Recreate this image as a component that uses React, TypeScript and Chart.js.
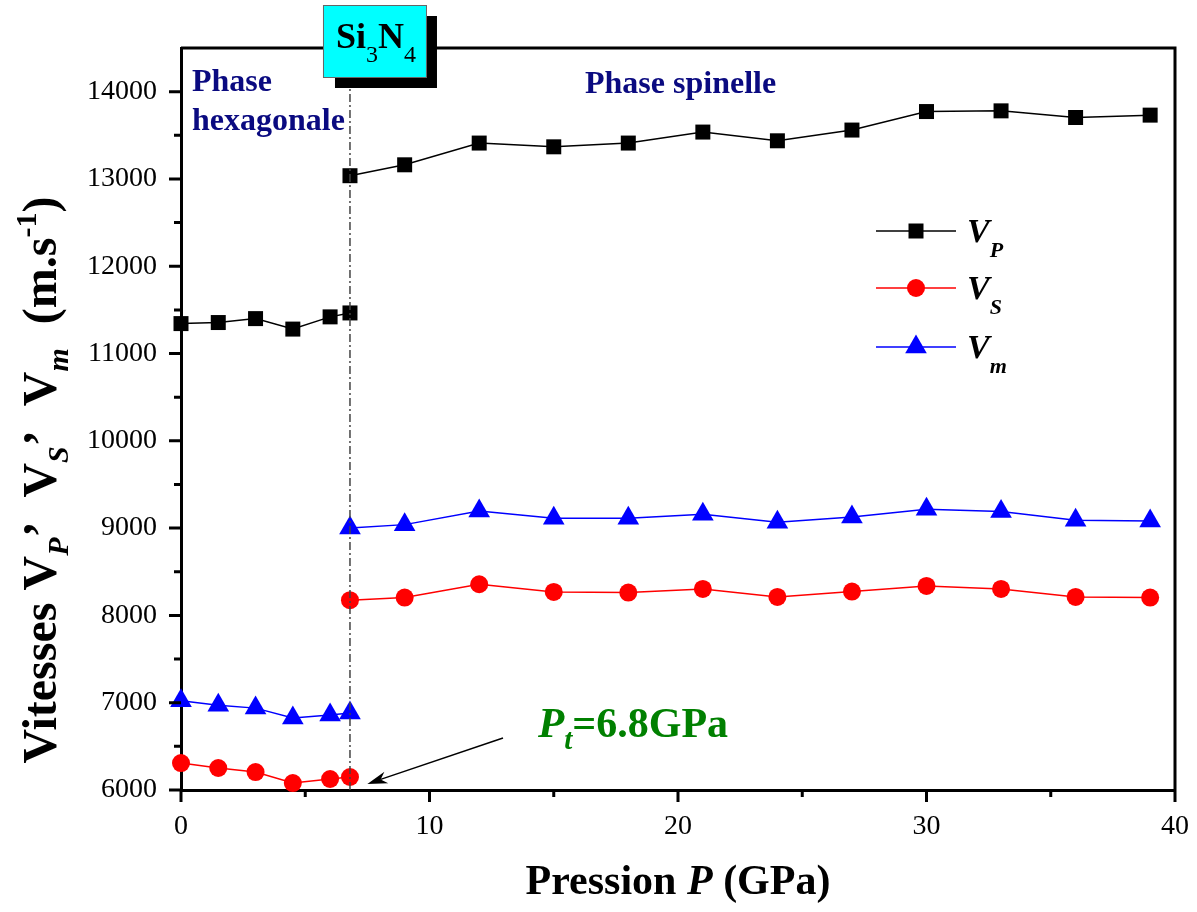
import React, { useEffect, useRef } from 'react';
import { Chart, registerables } from 'chart.js';
Chart.register(...registerables);

// ---- data ----
const pressureHex = [0, 1.5, 3, 4.5, 6, 6.8];
const pressureSpinel = [6.8, 9, 12, 15, 18, 21, 24, 27, 30, 33, 36, 39];
const vpHex = [11343, 11355, 11400, 11280, 11420, 11465];
const vpSpinel = [13037, 13162, 13411, 13368, 13411, 13537, 13437, 13560, 13772, 13780, 13704, 13731];
const vsHex = [6309, 6252, 6206, 6080, 6126, 6149];
const vsSpinel = [8174, 8205, 8357, 8269, 8262, 8303, 8212, 8273, 8338, 8303, 8212, 8205];
const vmHex = [7022, 6972, 6938, 6824, 6858, 6881];
const vmSpinel = [9001, 9040, 9196, 9112, 9112, 9158, 9066, 9127, 9215, 9189, 9089, 9081];
const xMajorTicks = [0, 10, 20, 30, 40];
const xMinorTicks = [5, 15, 25, 35];
const yMajorTicks = [6000, 7000, 8000, 9000, 10000, 11000, 12000, 13000, 14000];
const yMinorTicks = [6500, 7500, 8500, 9500, 10500, 11500, 12500, 13500];
const transitionPressure = 6.8;
const arrowTargetPressure = 7.5;
const arrowTargetSpeed = 6070;
const seriesNames = ['P', 'S', 'm'];
const seriesColors = ['#000000', '#ff0000', '#0000ff'];

type Run = { t: string; size: number; bold?: boolean; italic?: boolean; dy?: number };
const FAM = '"Liberation Serif", "Times New Roman", serif';
const fontOf = (r: Run) => `${r.italic ? 'italic ' : ''}${r.bold ? 'bold ' : ''}${r.size}px ${FAM}`;
function drawRuns(ctx: CanvasRenderingContext2D, runs: Run[], x: number, y: number, align: 'left' | 'center') {
  let total = 0;
  for (const r of runs) { ctx.font = fontOf(r); total += ctx.measureText(r.t).width; }
  let cx = align === 'center' ? x - total / 2 : x;
  ctx.textAlign = 'left';
  ctx.textBaseline = 'alphabetic';
  for (const r of runs) {
    ctx.font = fontOf(r);
    ctx.fillText(r.t, cx, y + (r.dy || 0));
    cx += ctx.measureText(r.t).width;
  }
}

function join(hex: number[], sp: number[]) {
  return [
    ...hex.map((y, i) => ({ x: pressureHex[i], y })),
    { x: transitionPressure, y: null as any },
    ...sp.map((y, i) => ({ x: pressureSpinel[i], y })),
  ];
}

function drawMarker(ctx: CanvasRenderingContext2D, kind: number, x: number, y: number, color: string) {
  ctx.fillStyle = color;
  ctx.beginPath();
  if (kind === 0) {
    ctx.rect(x - 7.5, y - 7.5, 15, 15);
  } else if (kind === 1) {
    ctx.arc(x, y, 9, 0, Math.PI * 2);
  } else {
    const r = 12.5;
    ctx.moveTo(x, y - r);
    ctx.lineTo(x + r * 0.866, y + r * 0.5);
    ctx.lineTo(x - r * 0.866, y + r * 0.5);
    ctx.closePath();
  }
  ctx.fill();
}

const decorPlugin = {
  id: 'decor',
  afterDatasetsDraw(chart: any) {
    const ctx = chart.ctx as CanvasRenderingContext2D;
    const xs = chart.scales.x;
    const ca = chart.chartArea;
    const px = xs.getPixelForValue(transitionPressure);
    ctx.save();
    ctx.strokeStyle = '#444444';
    ctx.lineWidth = 1.5;
    ctx.setLineDash([8, 3, 2, 3]);
    ctx.beginPath();
    ctx.moveTo(px, ca.bottom);
    ctx.lineTo(px, ca.top);
    ctx.stroke();
    ctx.restore();
  },
  afterDraw(chart: any) {
    const ctx = chart.ctx as CanvasRenderingContext2D;
    const xs = chart.scales.x, ys = chart.scales.y;
    const ca = chart.chartArea;
    ctx.save();
    // frame
    ctx.strokeStyle = '#000';
    ctx.lineWidth = 3;
    ctx.beginPath();
    ctx.moveTo(ca.left, ca.top);
    ctx.lineTo(ca.right, ca.top);
    ctx.lineTo(ca.right, ca.bottom);
    ctx.stroke();
    // ticks
    ctx.lineWidth = 3;
    ctx.beginPath();
    for (const v of yMajorTicks) { const p = ys.getPixelForValue(v); ctx.moveTo(ca.left - 12, p); ctx.lineTo(ca.left, p); }
    for (const v of yMinorTicks) { const p = ys.getPixelForValue(v); ctx.moveTo(ca.left - 7, p); ctx.lineTo(ca.left, p); }
    for (const v of xMajorTicks) { const p = xs.getPixelForValue(v); ctx.moveTo(p, ca.bottom); ctx.lineTo(p, ca.bottom + 12); }
    for (const v of xMinorTicks) { const p = xs.getPixelForValue(v); ctx.moveTo(p, ca.bottom); ctx.lineTo(p, ca.bottom + 7); }
    ctx.stroke();

    // Si3N4 box
    const bx = xs.getPixelForValue(transitionPressure) - 27;
    ctx.fillStyle = '#000';
    ctx.fillRect(bx + 12, 16, 102, 72);
    ctx.fillStyle = '#00ffff';
    ctx.fillRect(bx, 5, 103, 72);
    ctx.strokeStyle = '#666';
    ctx.lineWidth = 1;
    ctx.strokeRect(bx + 0.5, 5.5, 103, 72);
    ctx.fillStyle = '#000';
    drawRuns(ctx, [
      { t: 'Si', size: 36, bold: true },
      { t: '3', size: 24, dy: 14 },
      { t: 'N', size: 36, bold: true },
      { t: '4', size: 24, dy: 14 },
    ], bx + 13, 48, 'left');

    // phase labels
    ctx.fillStyle = '#0a0a80';
    drawRuns(ctx, [{ t: 'Phase', size: 32, bold: true }], ca.left + 11, 91, 'left');
    drawRuns(ctx, [{ t: 'hexagonale', size: 32, bold: true }], ca.left + 11, 130, 'left');
    drawRuns(ctx, [{ t: 'Phase spinelle', size: 32, bold: true }], 585, 93, 'left');

    // Pt label
    ctx.fillStyle = '#008000';
    drawRuns(ctx, [
      { t: 'P', size: 43, bold: true, italic: true },
      { t: 't', size: 29, bold: true, italic: true, dy: 12 },
      { t: '=6.8GPa', size: 42, bold: true },
    ], 538, 737, 'left');

    // arrow
    const ax = xs.getPixelForValue(arrowTargetPressure), ay = ys.getPixelForValue(arrowTargetSpeed);
    const sx = 503, sy = 738;
    const ang = Math.atan2(ay - sy, ax - sx);
    ctx.strokeStyle = '#000';
    ctx.lineWidth = 1.5;
    ctx.beginPath();
    ctx.moveTo(sx, sy);
    ctx.lineTo(ax - 14 * Math.cos(ang), ay - 14 * Math.sin(ang));
    ctx.stroke();
    ctx.fillStyle = '#000';
    ctx.beginPath();
    ctx.moveTo(ax, ay);
    ctx.lineTo(ax - 20 * Math.cos(ang) + 6 * Math.sin(ang), ay - 20 * Math.sin(ang) - 6 * Math.cos(ang));
    ctx.lineTo(ax - 14 * Math.cos(ang), ay - 14 * Math.sin(ang));
    ctx.lineTo(ax - 20 * Math.cos(ang) - 6 * Math.sin(ang), ay - 20 * Math.sin(ang) + 6 * Math.cos(ang));
    ctx.closePath();
    ctx.fill();

    // legend
    const ly = [231, 288, 347];
    seriesNames.forEach((name, i) => {
      ctx.strokeStyle = seriesColors[i];
      ctx.lineWidth = 1.5;
      ctx.beginPath();
      ctx.moveTo(876, ly[i]);
      ctx.lineTo(956, ly[i]);
      ctx.stroke();
      drawMarker(ctx, i, 916, ly[i], seriesColors[i]);
      ctx.fillStyle = '#000';
      drawRuns(ctx, [
        { t: 'V', size: 34, bold: true, italic: true },
        { t: name, size: 22, bold: true, italic: true, dy: 15 },
      ], 967, ly[i] + 11, 'left');
    });

    // axis titles
    ctx.fillStyle = '#000';
    drawRuns(ctx, [
      { t: 'Pression ', size: 42, bold: true },
      { t: 'P', size: 42, bold: true, italic: true },
      { t: ' (GPa)', size: 42, bold: true },
    ], (ca.left + ca.right) / 2, 894, 'center');

    ctx.save();
    ctx.translate(56, 480);
    ctx.rotate(-Math.PI / 2);
    drawRuns(ctx, [
      { t: 'Vitesses V', size: 48, bold: true },
      { t: 'P', size: 30, bold: true, italic: true, dy: 12 },
      { t: '\u2019  V', size: 48, bold: true },
      { t: 'S', size: 30, bold: true, italic: true, dy: 12 },
      { t: '\u2019  V', size: 48, bold: true },
      { t: 'm', size: 30, bold: true, italic: true, dy: 12 },
      { t: '  (m.s', size: 48, bold: true },
      { t: '-1', size: 30, bold: true, dy: -20 },
      { t: ')', size: 48, bold: true },
    ], 0, 0, 'center');
    ctx.restore();
    ctx.restore();
  },
};

export default function App() {
  const ref = useRef<HTMLCanvasElement>(null);
  useEffect(() => {
    document.body.style.margin = '0';
    const canvas = ref.current!;
    const mk = (label: string, hex: number[], sp: number[], color: string, style: string, radius: number) => ({
      label,
      data: join(hex, sp),
      borderColor: color,
      backgroundColor: color,
      borderWidth: 1.5,
      pointStyle: style,
      pointRadius: radius,
      pointHoverRadius: radius,
      pointBorderWidth: 0,
      spanGaps: false,
      clip: false,
    });
    const chart = new Chart(canvas, {
      type: 'line',
      data: {
        datasets: [
          mk('VP', vpHex, vpSpinel, seriesColors[0], 'rect', 10.6),
          mk('VS', vsHex, vsSpinel, seriesColors[1], 'circle', 9),
          mk('Vm', vmHex, vmSpinel, seriesColors[2], 'triangle', 12.5),
        ] as any,
      },
      options: {
        animation: false,
        responsive: false,
        events: [],
        layout: { padding: { left: 0, top: 48, right: 22, bottom: 0 } },
        plugins: { legend: { display: false }, tooltip: { enabled: false } },
        scales: {
          x: {
            type: 'linear',
            min: 0,
            max: 40,
            afterBuildTicks: (s: any) => { s.ticks = xMajorTicks.map((v) => ({ value: v })); },
            afterFit: (s: any) => { s.height = 122; s.paddingLeft = 0; s.paddingRight = 0; },
            grid: { display: false, drawTicks: false },
            border: { display: true, color: '#000', width: 3 },
            ticks: { autoSkip: false, maxRotation: 0, padding: 20, color: '#000', font: { family: FAM, size: 28 }, callback: (v: any) => String(v) },
          },
          y: {
            type: 'linear',
            min: 6000,
            max: 14500,
            afterBuildTicks: (s: any) => { s.ticks = yMajorTicks.map((v) => ({ value: v })); },
            afterFit: (s: any) => { s.width = 181; s.paddingTop = 0; s.paddingBottom = 0; },
            grid: { display: false, drawTicks: false },
            border: { display: true, color: '#000', width: 3 },
            ticks: { autoSkip: false, padding: 24, color: '#000', font: { family: FAM, size: 28 }, callback: (v: any) => String(v) },
          },
        },
      },
      plugins: [decorPlugin],
    } as any);
    return () => chart.destroy();
  }, []);
  return <canvas ref={ref} width={1197} height={912} style={{ display: 'block', width: 1197, height: 912 }} />;
}
